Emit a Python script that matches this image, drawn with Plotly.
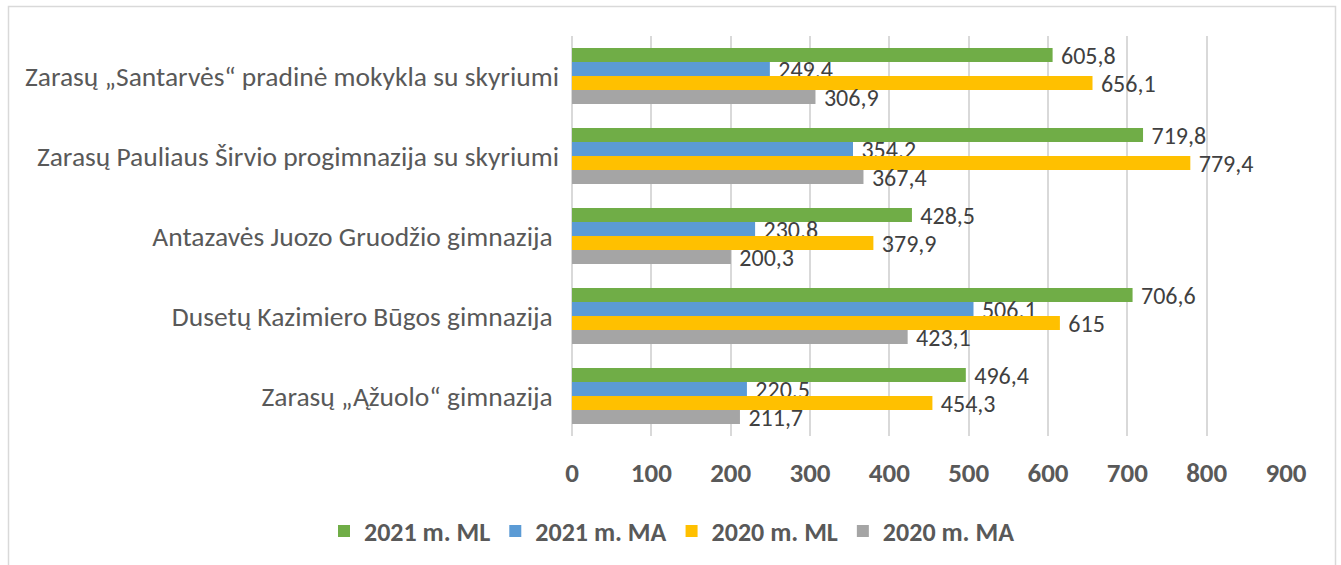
import plotly.graph_objects as go

categories = [
    "Zarasų „Santarvės“ pradinė mokykla su skyriumi",
    "Zarasų Pauliaus Širvio progimnazija su skyriumi",
    "Antazavės Juozo Gruodžio gimnazija ",
    "Dusetų Kazimiero Būgos gimnazija ",
    "Zarasų „Ąžuolo“ gimnazija ",
]
series_names = ["2021 m. ML", "2021 m. MA", "2020 m. ML", "2020 m. MA"]
ml_2021 = [605.8, 719.8, 428.5, 706.6, 496.4]
ma_2021 = [249.4, 354.2, 230.8, 506.1, 220.5]
ml_2020 = [656.1, 779.4, 379.9, 615, 454.3]
ma_2020 = [306.9, 367.4, 200.3, 423.1, 211.7]
x_ticks = [0, 100, 200, 300, 400, 500, 600, 700, 800, 900]

colors = ["#70AD47", "#5B9BD5", "#FFC000", "#A5A5A5"]
FONT = "Carlito, Calibri, Lato, sans-serif"

W, H = 1341, 565
L, R, T, B = 572, 55, 36, 129
pw, ph = W - L - R, H - T - B

def fmt(v):
    return "\u00a0" + f"{v:g}".replace(".", ",")

fig = go.Figure()
for name, vals, c in zip(series_names, [ml_2021, ma_2021, ml_2020, ma_2020], colors):
    fig.add_trace(go.Bar(
        y=categories, x=vals, name=name, orientation="h",
        marker=dict(color=c, line=dict(width=0)),
        text=[fmt(v) for v in vals], textposition="outside",
        constraintext="none",
        textfont=dict(family=FONT, size=24, color="#404040"),
        cliponaxis=False,
    ))

def px_x(p):
    return (p - L) / pw

def px_y(p):
    return (H - B - p) / ph

fig.add_shape(type="rect", xref="paper", yref="paper",
              x0=px_x(8.5), x1=px_x(1335.5), y0=px_y(600), y1=px_y(6.5),
              line=dict(color="#D9D9D9", width=1.5), fillcolor="rgba(0,0,0,0)", layer="below")

fig.update_layout(
    width=W, height=H,
    margin=dict(l=L, r=R, t=T, b=B, autoexpand=False),
    barmode="group", bargap=0.3, bargroupgap=0,
    plot_bgcolor="white", paper_bgcolor="white",
    font=dict(family=FONT),
    showlegend=True,
    legend=dict(orientation="h", x=px_x(672), xanchor="center", y=px_y(531), yanchor="middle",
                font=dict(family=FONT, size=26, color="#595959", weight="bold"),
                itemwidth=30, tracegroupgap=0),
    xaxis=dict(range=[0, 900], tickvals=x_ticks, showgrid=True, gridcolor="#D9D9D9", gridwidth=1.5,
               zeroline=True, zerolinecolor="#D9D9D9", zerolinewidth=1.5, showline=False,
               tickfont=dict(family=FONT, size=27, color="#595959", weight="bold"),
               ticks="", ticklabelstandoff=18, fixedrange=True),
    yaxis=dict(autorange="reversed", showgrid=False, zeroline=False, showline=False,
               tickfont=dict(family=FONT, size=27.5, color="#595959"),
               ticks="", ticklabelstandoff=12),
)

fig.write_html("out.html", config={"displayModeBar": False},
               post_script="document.body.style.margin='0';")
